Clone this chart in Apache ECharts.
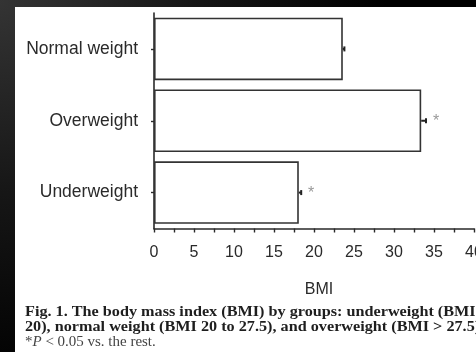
<!DOCTYPE html>
<html>
<head>
<meta charset="utf-8">
<script src="https://cdn.jsdelivr.net/npm/echarts@6/dist/echarts.min.js"></script>
<style>
  html, body { margin: 0; padding: 0; background: #000; }
  #chart { width: 476px; height: 352px; }
</style>
</head>
<body>
<div id="chart"></div>
<script>
// BMI by weight group (mean ± SE), asterisk marks P < 0.05 vs. the rest
const groups = ['Normal weight', 'Overweight', 'Underweight'];
const bmiMean = [23.6, 33.4, 18.1];
const bmiErr = [0.2, 0.6, 0.3];
const significant = [false, true, true];
const xTicks = [0, 5, 10, 15, 20, 25, 30, 35, 40];

const captionLine1 = 'Fig. 1. The body mass index (BMI) by groups: underweight (BMI';
const captionLine2 = '20), normal weight (BMI 20 to 27.5), and overweight (BMI > 27.5)';

const ink = '#2a2a2a';
const chart = echarts.init(document.getElementById('chart'), null, { renderer: 'canvas' });

const errData = groups.map((g, i) => [bmiMean[i], i, bmiErr[i], significant[i] ? 1 : 0]);

chart.setOption({
  backgroundColor: '#000',
  animation: false,
  graphic: [
    {
      type: 'rect', z: -10, silent: true,
      shape: { x: 0, y: 0, width: 476, height: 352 },
      style: {
        fill: {
          type: 'radial', x: 0, y: 0, r: 1.1, global: false,
          colorStops: [{ offset: 0, color: '#343434' }, { offset: 0.5, color: '#161616' }, { offset: 1, color: '#000' }]
        }
      }
    },
    {
      type: 'rect', z: -9, silent: true,
      shape: { x: 15, y: 7, width: 461, height: 345 },
      style: { fill: '#fff' }
    },
    {
      type: 'text', left: 25, top: 305, scaleX: 1.08,
      style: { text: captionLine1, font: 'bold 15px "Liberation Serif", "Times New Roman", serif', fill: '#1e1e1e' }
    },
    {
      type: 'text', left: 25, top: 320, scaleX: 1.08,
      style: { text: captionLine2, font: 'bold 15px "Liberation Serif", "Times New Roman", serif', fill: '#1e1e1e' }
    },
    {
      type: 'text', left: 25, top: 335, scaleX: 1.07,
      style: {
        text: '{s|*}{i|P}{s| < 0.05 vs. the rest.}',
        rich: {
          s: { font: '14px "Liberation Serif", "Times New Roman", serif', fill: '#444' },
          i: { font: 'italic 14px "Liberation Serif", "Times New Roman", serif', fill: '#444' }
        }
      }
    }
  ],
  grid: { left: 154, top: 13, width: 320, height: 215.5, containLabel: false, outerBoundsMode: 'none' },
  xAxis: {
    type: 'value', min: 0, max: 40, interval: 5,
    name: 'BMI', nameLocation: 'middle', nameGap: 53,
    nameTextStyle: { fontFamily: '"Liberation Sans", Arial, sans-serif', fontSize: 16, color: ink, padding: [0, 0, 0, 10] },
    axisLine: { show: true, lineStyle: { color: ink, width: 1.6 } },
    axisTick: { show: true, length: 4, lineStyle: { color: ink, width: 1.4 } },
    minorTick: { show: true, splitNumber: 2, length: 4, lineStyle: { color: ink, width: 1.4 } },
    splitLine: { show: false },
    axisLabel: {
      margin: 16, fontSize: 16, color: ink, fontFamily: '"Liberation Sans", Arial, sans-serif',
      formatter: v => (xTicks.indexOf(v) >= 0 ? String(v) : '')
    }
  },
  yAxis: {
    type: 'category', data: groups, inverse: true,
    axisLine: { show: true, lineStyle: { color: ink, width: 1.6 } },
    axisTick: { show: true, alignWithLabel: true, length: 3, lineStyle: { color: ink, width: 1.4 } },
    axisLabel: { margin: 16, fontSize: 17.5, color: ink, fontFamily: '"Liberation Sans", Arial, sans-serif' },
    splitLine: { show: false }
  },
  series: [
    {
      type: 'bar', data: bmiMean, barCategoryGap: '13%',
      itemStyle: { color: '#fff', borderColor: '#333', borderWidth: 1.6 }
    },
    {
      type: 'custom', data: errData, z: 5,
      renderItem: function (params, api) {
        const mean = api.value(0), idx = api.value(1), err = api.value(2), sig = api.value(3);
        const p0 = api.coord([mean, idx]);
        const p1 = api.coord([mean + err, idx]);
        const children = [
          { type: 'line', shape: { x1: p0[0], y1: p0[1], x2: p1[0], y2: p1[1] }, style: { stroke: '#222', lineWidth: 2 } },
          { type: 'line', shape: { x1: p1[0], y1: p1[1] - 2.5, x2: p1[0], y2: p1[1] + 2.5 }, style: { stroke: '#222', lineWidth: 2 } }
        ];
        if (sig) {
          children.push({
            type: 'text', x: p1[0] + 10, y: p1[1] + 1,
            style: { text: '*', font: '16px "Liberation Sans", Arial, sans-serif', fill: '#999', textAlign: 'center', textVerticalAlign: 'middle' }
          });
        }
        return { type: 'group', children: children };
      }
    }
  ]
});
</script>
</body>
</html>
